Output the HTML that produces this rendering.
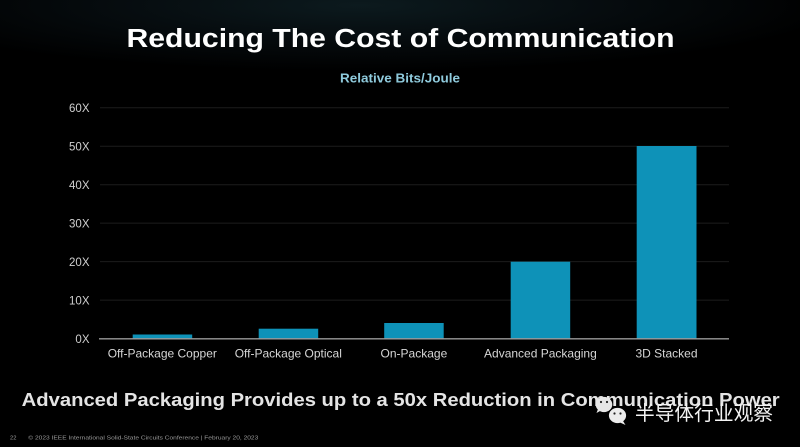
<!DOCTYPE html>
<html>
<head>
<meta charset="utf-8">
<style>
html,body{margin:0;padding:0;background:#000;}
body{width:800px;height:447px;overflow:hidden;}
svg{display:block;}
</style>
</head>
<body>
<svg width="800" height="447" viewBox="0 0 800 447" xmlns="http://www.w3.org/2000/svg">
  <defs>
    <radialGradient id="glow" cx="0.45" cy="0.05" r="0.6">
      <stop offset="0" stop-color="#0c1a1e"/>
      <stop offset="0.5" stop-color="#060c0f"/>
      <stop offset="1" stop-color="#000000"/>
    </radialGradient>
    <linearGradient id="fade" x1="0" y1="0" x2="0" y2="1">
      <stop offset="0" stop-color="#000" stop-opacity="0"/>
      <stop offset="1" stop-color="#000" stop-opacity="1"/>
    </linearGradient>
  </defs>
  <rect width="800" height="447" fill="#000"/>
  <rect width="800" height="110" fill="url(#glow)"/>
  <rect y="60" width="800" height="50" fill="url(#fade)"/>

  <!-- Title -->
  <text x="126.5" y="47" font-family="Liberation Sans, Arial, sans-serif" font-weight="bold" font-size="25.5" fill="#ffffff" textLength="548" lengthAdjust="spacingAndGlyphs">Reducing The Cost of Communication</text>
  <text x="340" y="82.7" font-family="Liberation Sans, Arial, sans-serif" font-weight="bold" font-size="13.3" fill="#8fcadc" textLength="120" lengthAdjust="spacingAndGlyphs">Relative Bits/Joule</text>

  <!-- Gridlines -->
  <g stroke="#1c1c1c" stroke-width="1">
    <line x1="100" y1="107.7" x2="729" y2="107.7"/>
    <line x1="100" y1="146.2" x2="729" y2="146.2"/>
    <line x1="100" y1="184.7" x2="729" y2="184.7"/>
    <line x1="100" y1="223.1" x2="729" y2="223.1"/>
    <line x1="100" y1="261.6" x2="729" y2="261.6"/>
    <line x1="100" y1="300.1" x2="729" y2="300.1"/>
  </g>

  <!-- Y labels -->
  <g font-family="Liberation Sans, Arial, sans-serif" font-size="11.5" fill="#cfcfcf" text-anchor="end">
    <text x="89.5" y="112">60X</text>
    <text x="89.5" y="150.5">50X</text>
    <text x="89.5" y="189">40X</text>
    <text x="89.5" y="227.5">30X</text>
    <text x="89.5" y="266">20X</text>
    <text x="89.5" y="304.5">10X</text>
    <text x="89.5" y="343">0X</text>
  </g>

  <!-- Bars -->
  <g fill="#0e92b8">
    <rect x="132.7" y="334.5" width="59.5" height="4.2"/>
    <rect x="258.7" y="328.7" width="59.5" height="10"/>
    <rect x="384.2" y="323" width="59.5" height="15.7"/>
    <rect x="510.7" y="261.7" width="59.5" height="77"/>
    <rect x="636.7" y="146" width="59.8" height="192.7"/>
  </g>

  <!-- Baseline -->
  <line x1="99" y1="338.8" x2="729" y2="338.8" stroke="#9a9a9a" stroke-width="1.3"/>

  <!-- Category labels -->
  <g font-family="Liberation Sans, Arial, sans-serif" font-size="12" fill="#d6d6d6" text-anchor="middle">
    <text x="162.3" y="357.3">Off-Package Copper</text>
    <text x="288.3" y="357.3">Off-Package Optical</text>
    <text x="413.9" y="357.3">On-Package</text>
    <text x="540.4" y="357.3">Advanced Packaging</text>
    <text x="666.5" y="357.3">3D Stacked</text>
  </g>

  <!-- Bottom statement -->
  <text x="21.7" y="406" font-family="Liberation Sans, Arial, sans-serif" font-weight="bold" font-size="18.5" fill="#e4e4e4" textLength="758" lengthAdjust="spacingAndGlyphs">Advanced Packaging Provides up to a 50x Reduction in Communication Power</text>

  <!-- Footer -->
  <text x="10" y="439.3" font-family="Liberation Sans, Arial, sans-serif" font-size="5.8" fill="#9a9a9a">22</text>
  <text x="28.3" y="439.3" font-family="Liberation Sans, Arial, sans-serif" font-size="5.8" fill="#9a9a9a" textLength="230" lengthAdjust="spacingAndGlyphs">© 2023 IEEE International Solid-State Circuits Conference  |  February 20, 2023</text>

  <!-- Watermark -->
  <g>
    <ellipse cx="604" cy="404.5" rx="8.3" ry="7.6" fill="#e6e6e6"/>
    <path d="M598 409 L596.5 413 L601 410.5 Z" fill="#e6e6e6"/>
    <circle cx="601" cy="402" r="1.1" fill="#222"/>
    <circle cx="607" cy="402" r="1.1" fill="#222"/>
    <ellipse cx="617.5" cy="415.5" rx="9.3" ry="8.3" fill="#000" opacity="0.9"/>
    <ellipse cx="617.5" cy="415.5" rx="8.6" ry="7.6" fill="#ececec"/>
    <path d="M623 421 L625.5 425 L620 422.5 Z" fill="#ececec"/>
    <circle cx="614.5" cy="413.5" r="1.1" fill="#222"/>
    <circle cx="620.5" cy="413.5" r="1.1" fill="#222"/>
  </g>
  <text x="635" y="420" font-family="Noto Sans CJK SC, WenQuanYi Zen Hei, sans-serif" font-size="20" fill="#f4f4f4" textLength="138" lengthAdjust="spacingAndGlyphs">半导体行业观察</text>
</svg>
</body>
</html>
